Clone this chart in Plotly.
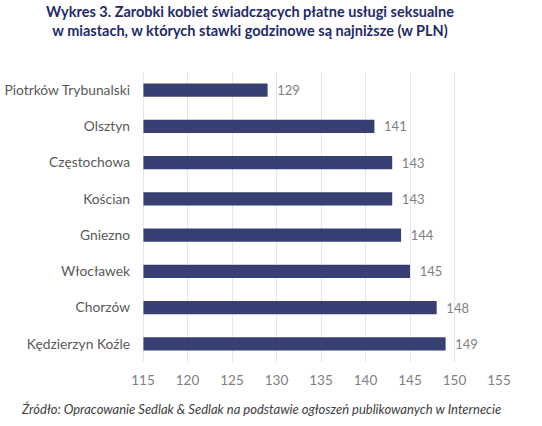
import plotly.graph_objects as go

cities = ["Piotrków Trybunalski", "Olsztyn", "Częstochowa", "Kościan",
          "Gniezno", "Włocławek", "Chorzów", "Kędzierzyn Koźle"]
values = [129, 141, 143, 143, 144, 145, 148, 149]
x_ticks = [115, 120, 125, 130, 135, 140, 145, 150, 155]

FONT = "Lato, 'Open Sans', sans-serif"
L, R, T, B = 143, 43, 72, 64
PW, PH = 542 - L - R, 426 - T - B

fig = go.Figure(go.Bar(
    y=cities, x=values, orientation="h",
    base=0,
    marker=dict(color="#383F73", line=dict(width=0)),
    width=0.36,
    text=["  " + str(v) for v in values],
    textposition="outside",
    constraintext="none",
    textfont=dict(family=FONT, size=13, color="#7F7F7F"),
    cliponaxis=False,
))

fig.update_layout(
    width=542, height=426,
    margin=dict(l=L, r=R, t=T, b=B),
    paper_bgcolor="white", plot_bgcolor="white",
    showlegend=False,
    title=dict(
        text="Wykres 3. Zarobki kobiet świadczących płatne usługi seksualne<br>w miastach, w których stawki godzinowe są najniższe (w PLN)",
        x=250/542, xanchor="center", y=0.96, yanchor="top",
        font=dict(family=FONT, size=14.5, color="#1F2A6B", weight="bold"),
    ),
    xaxis=dict(
        range=[115, 155], tickvals=x_ticks, ticktext=[str(t) for t in x_ticks],
        showgrid=True, gridcolor="#E6E6E6", gridwidth=1,
        zeroline=False, showline=False, ticks="",
        tickfont=dict(family=FONT, size=13.5, color="#7F7F7F"),
        ticklabelstandoff=8, automargin=False,
    ),
    yaxis=dict(
        autorange="reversed", showgrid=False, zeroline=False,
        showline=False, ticks="", automargin=False,
        tickfont=dict(family=FONT, size=13.8, color="#595959"),
        ticklabelstandoff=12,
    ),
    shapes=[dict(type="line", xref="x", yref="paper", x0=115, x1=115, y0=0, y1=1,
                 line=dict(color="#D0D0D0", width=1))],
    annotations=[dict(
        text="Źródło: Opracowanie Sedlak & Sedlak na podstawie ogłoszeń publikowanych w Internecie",
        xref="paper", yref="paper", x=(261 - L) / PW, y=-47 / PH,
        xanchor="center", yanchor="middle",
        showarrow=False, font=dict(family=FONT, size=13, color="#404040", style="italic"),
    )],
)

fig.write_html("out.html")
